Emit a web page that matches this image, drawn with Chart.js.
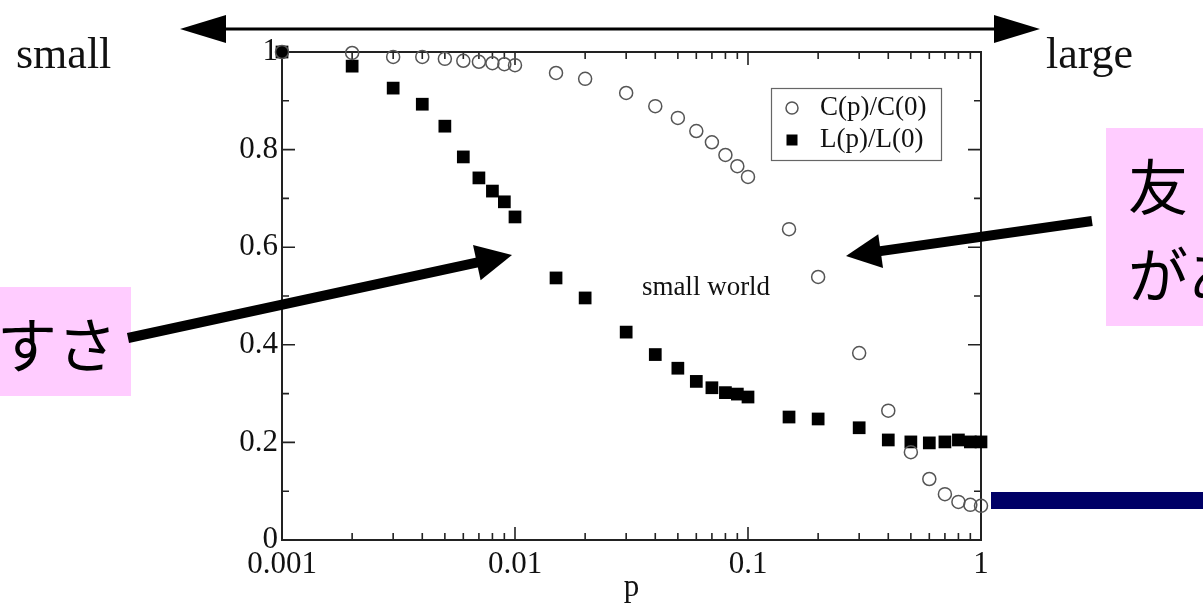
<!DOCTYPE html>
<html><head><meta charset="utf-8">
<script src="https://cdn.jsdelivr.net/npm/chart.js@4/dist/chart.umd.min.js"></script>
<style>html,body{margin:0;padding:0;background:#fff;overflow:hidden}canvas{display:block}</style>
</head><body>
<canvas id="c" width="1203" height="607"></canvas>
<script>
const pValues = [0.001,0.002,0.003,0.004,0.005,0.006,0.007,0.008,0.009,0.01,0.015,0.02,0.03,0.04,0.05,0.06,0.07,0.08,0.09,0.1,0.15,0.2,0.3,0.4,0.5,0.6,0.7,0.8,0.9,1];
const clustering = [1.0,0.998,0.99,0.99,0.986,0.982,0.98,0.977,0.975,0.973,0.957,0.945,0.916,0.889,0.865,0.838,0.815,0.789,0.766,0.744,0.637,0.539,0.383,0.265,0.18,0.125,0.094,0.078,0.072,0.07];
const pathLength = [1.0,0.971,0.926,0.893,0.848,0.785,0.742,0.715,0.693,0.662,0.537,0.496,0.426,0.380,0.352,0.325,0.312,0.302,0.299,0.293,0.252,0.248,0.230,0.205,0.201,0.199,0.201,0.205,0.201,0.201];
const xTickValues = [0.001,0.01,0.1,1];
const xTickLabels = ['0.001','0.01','0.1','1'];
const yTickValues = [0,0.2,0.4,0.6,0.8,1];
const yTickLabels = ['0','0.2','0.4','0.6','0.8','1'];
const seriesLabels = ['C(p)/C(0)','L(p)/L(0)'];

const SERIF = '"Liberation Serif", "Times New Roman", serif';
const JP = '"Noto Sans CJK JP", sans-serif';

function arrow(ctx, x1, y1, x2, y2, w, hl, hw) {
  const dx = x2 - x1, dy = y2 - y1, L = Math.hypot(dx, dy);
  const ux = dx / L, uy = dy / L, nx = -uy, ny = ux;
  const bx = x2 - ux * hl, by = y2 - uy * hl;
  ctx.save();
  ctx.strokeStyle = '#000'; ctx.fillStyle = '#000';
  ctx.lineWidth = w; ctx.lineCap = 'butt';
  ctx.beginPath(); ctx.moveTo(x1, y1); ctx.lineTo(bx + ux * 2, by + uy * 2); ctx.stroke();
  ctx.beginPath(); ctx.moveTo(x2, y2); ctx.lineTo(bx + nx * hw, by + ny * hw); ctx.lineTo(bx - nx * hw, by - ny * hw); ctx.closePath(); ctx.fill();
  ctx.restore();
}

const framePlugin = {
  id: 'frame',
  beforeDatasetsDraw(chart) {
    const {ctx, chartArea: a, scales: {x, y}} = chart;
    ctx.save();
    ctx.strokeStyle = '#222'; ctx.lineWidth = 2;
    ctx.strokeRect(a.left, a.top, a.right - a.left, a.bottom - a.top);
    ctx.lineWidth = 1.6;
    ctx.beginPath();
    for (let d = 0.001; d < 1.5; d *= 10) {
      for (let k = 1; k <= 9; k++) {
        const v = d * k; if (v > 1.0001) break;
        const px = x.getPixelForValue(v);
        const len = k === 1 ? 13 : 7;
        ctx.moveTo(px, a.bottom); ctx.lineTo(px, a.bottom - len);
        ctx.moveTo(px, a.top); ctx.lineTo(px, a.top + len);
      }
    }
    for (let i = 0; i <= 10; i++) {
      const py = y.getPixelForValue(i / 10);
      const len = i % 2 === 0 ? 13 : 7;
      ctx.moveTo(a.left, py); ctx.lineTo(a.left + len, py);
      ctx.moveTo(a.right, py); ctx.lineTo(a.right - len, py);
    }
    ctx.stroke();
    ctx.restore();
  },
  afterDraw(chart) {
    const ctx = chart.ctx;
    ctx.save();
    // legend
    ctx.strokeStyle = '#666'; ctx.lineWidth = 1.2;
    ctx.strokeRect(771.5, 88.5, 170, 72);
    chart.data.datasets.forEach((ds, i) => {
      const cy = 108 + i * 32;
      if (ds.pointStyle === 'circle') {
        ctx.beginPath(); ctx.arc(792, cy, 6, 0, Math.PI * 2);
        ctx.strokeStyle = ds.borderColor; ctx.lineWidth = ds.borderWidth; ctx.stroke();
      } else {
        ctx.fillStyle = ds.backgroundColor; ctx.fillRect(786.5, cy - 5.5, 11, 11);
      }
      ctx.fillStyle = '#111'; ctx.font = '27px ' + SERIF;
      ctx.textAlign = 'left'; ctx.textBaseline = 'middle';
      ctx.fillText(ds.label, 820, cy);
    });
    // small world
    ctx.fillStyle = '#111'; ctx.font = '27px ' + SERIF; ctx.textAlign = 'center'; ctx.textBaseline = 'alphabetic';
    ctx.fillText('small world', 706, 295);
    // top double arrow
    ctx.strokeStyle = '#000'; ctx.fillStyle = '#000'; ctx.lineWidth = 3;
    ctx.beginPath(); ctx.moveTo(224, 29); ctx.lineTo(996, 29); ctx.stroke();
    ctx.beginPath(); ctx.moveTo(180, 29); ctx.lineTo(226, 15); ctx.lineTo(226, 43); ctx.closePath(); ctx.fill();
    ctx.beginPath(); ctx.moveTo(1040, 29); ctx.lineTo(994, 15); ctx.lineTo(994, 43); ctx.closePath(); ctx.fill();
    ctx.font = '44px ' + SERIF; ctx.textAlign = 'left'; ctx.textBaseline = 'alphabetic';
    ctx.fillStyle = '#111';
    ctx.fillText('small', 16, 68);
    ctx.fillText('large', 1046, 68);
    // pink boxes
    ctx.fillStyle = '#ffccff';
    ctx.fillRect(0, 287, 131, 109);
    ctx.fillRect(1106, 128, 97, 198);
    ctx.fillStyle = '#000'; ctx.font = '60px ' + JP; ctx.textBaseline = 'middle'; ctx.textAlign = 'left';
    ctx.fillText('すさ', -3, 345);
    ctx.fillText('友', 1128, 187);
    ctx.fillText('があ', 1128, 275);
    // pointer arrows
    arrow(ctx, 128, 338, 512, 255, 10, 36, 18);
    arrow(ctx, 1092, 221, 846, 256, 10, 35, 17);
    // navy bar
    ctx.fillStyle = '#000066';
    ctx.fillRect(991, 492, 212, 17);
    ctx.restore();
  }
};

new Chart(document.getElementById('c'), {
  type: 'scatter',
  data: {
    datasets: [
      { label: seriesLabels[0], data: pValues.map((p, i) => ({x: p, y: clustering[i]})),
        pointStyle: 'circle', pointRadius: 6.5, borderColor: '#555', borderWidth: 1.5,
        backgroundColor: 'rgba(0,0,0,0)', clip: false },
      { label: seriesLabels[1], data: pValues.map((p, i) => ({x: p, y: pathLength[i]})),
        pointStyle: 'rect', pointRadius: 9, borderWidth: 0, borderColor: '#000',
        backgroundColor: '#000', clip: false }
    ]
  },
  options: {
    responsive: false, animation: false, devicePixelRatio: 1,
    layout: { padding: { left: 0, top: 52, right: 222, bottom: 0 } },
    plugins: { legend: { display: false }, tooltip: { enabled: false } },
    scales: {
      x: {
        type: 'logarithmic', min: 0.001, max: 1, position: 'bottom',
        afterBuildTicks: s => { s.ticks = xTickValues.map(v => ({value: v})); },
        ticks: { autoSkip: false, maxRotation: 0, padding: 6, color: '#111',
          font: { family: SERIF, size: 31 }, callback: (v, i) => xTickLabels[i] },
        grid: { display: false, drawTicks: false },
        border: { display: false },
        title: { display: true, text: 'p', color: '#111', font: { family: SERIF, size: 31 }, padding: { top: 0, bottom: 1 } },
        afterFit: s => { s.height = 67; }
      },
      y: {
        min: 0, max: 1,
        afterBuildTicks: s => { s.ticks = yTickValues.map(v => ({value: v})); },
        ticks: { padding: 4, color: '#111', font: { family: SERIF, size: 31 },
          callback: (v, i) => yTickLabels[i] },
        grid: { display: false, drawTicks: false },
        border: { display: false },
        afterFit: s => { s.width = 282; }
      }
    }
  },
  plugins: [framePlugin]
});
</script>
</body></html>
